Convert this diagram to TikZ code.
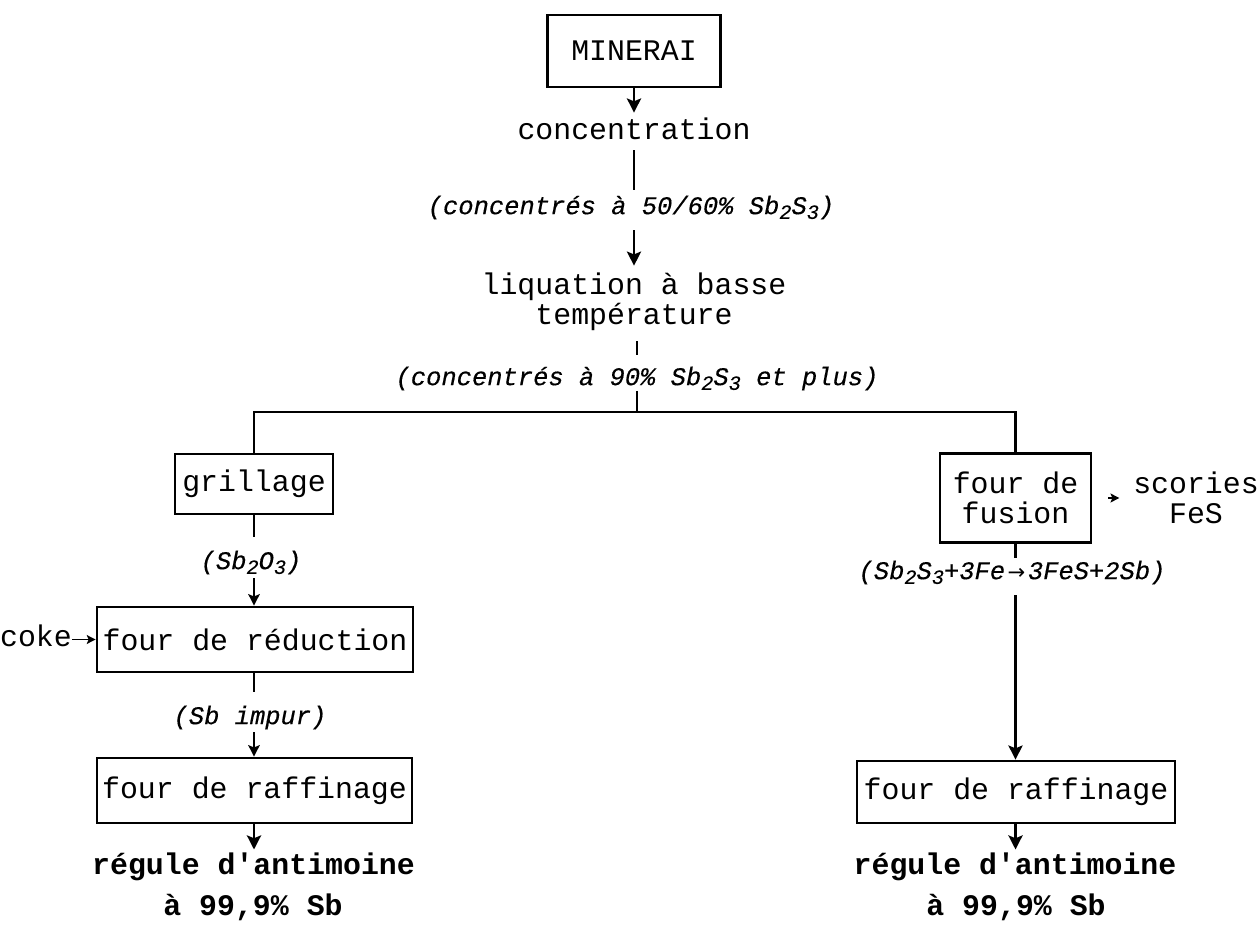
\documentclass[tikz,border=0pt]{standalone}
\usepackage{fontspec}
\setmonofont{Liberation Mono}
\newfontfamily\labfam{Liberation Mono}[UprightFont={* Italic}, FakeBold=0.35]
\newfontfamily\arrowfont{DejaVu Sans}
\usetikzlibrary{arrows.meta}

% type faces of the flow sheet
\newcommand\fbody{\ttfamily\fontsize{17}{17.1}\selectfont}
\newcommand\flab{\labfam\fontsize{14.5}{14.5}\selectfont}
\newcommand\fres{\ttfamily\bfseries\fontsize{17}{17.1}\selectfont}
% lowered index digit for chemical formulae
\newcommand\ix[1]{\raisebox{-0.35ex}{\fontsize{11.5}{11.5}\selectfont #1}}
% reaction arrow inside a formula
\newcommand\yields{\hspace{0.1em}{\arrowfont\fontsize{12}{12}\selectfont →}\hspace{0.1em}}

\tikzset{
  box/.style={draw, line width=1.6pt, inner sep=0pt, font=\fbody, align=center},
  txt/.style={inner sep=0pt, font=\fbody, text height=12pt, text depth=3.5pt},
  txtml/.style={inner sep=0pt, font=\fbody, align=center},
  lab/.style={inner sep=0pt, font=\flab, text height=10pt, text depth=3pt},
  res/.style={inner sep=0pt, font=\fres, text height=12pt, text depth=3.5pt},
  flow/.style={line width=1.6pt},
  arr/.style={flow, -{Stealth[length=8pt,width=8pt,inset=1.6pt]}},
  smallarr/.style={flow, -{Stealth[length=6.5pt,width=6.5pt,inset=1.3pt]}},
  tinyarr/.style={line width=1pt, -{Stealth[length=5pt,width=5pt,inset=1pt]}},
}

\begin{document}
\begin{tikzpicture}[x=0.02cm, y=-0.02cm]
\useasboundingbox (0,0) rectangle (1260,925);

% ---- main trunk
\node[box, minimum width=3.46cm, minimum height=1.44cm] (min) at (634,51) {MINERAI};
\node[txt] (conc) at (634,132) {concentration};
\node[lab] (l1) at (631,208) {(concentrés à 50/60\% Sb\ix{2}S\ix{3})};
\node[txtml] (liq) at (634,302) {liquation à basse\\température};
\node[lab] (l2) at (637,379) {(concentrés à 90\% Sb\ix{2}S\ix{3} et plus)};
\coordinate (junc) at (637,412);

% ---- left branch: roasting and reduction
\node[box, minimum width=3.16cm, minimum height=1.2cm] (gri) at (254,484) {grillage};
\node[lab] (l3) at (251,563) {(Sb\ix{2}O\ix{3})};
\node[box, minimum width=6.32cm, minimum height=1.3cm] (red) at (255,639.5) {four de réduction};
\node[txt] (coke) at (36,639.5) {coke};
\node[lab] (l4) at (250,718) {(Sb impur)};
\node[box, minimum width=6.3cm, minimum height=1.3cm] (raf1) at (254.5,790.5) {four de raffinage};
\node[res] (reg1) at (253.5,867) {régule d\textquotesingle antimoine};
\node[res] (pct1) at (253,908) {à 99,9\% Sb};

% ---- right branch: precipitation smelting
\node[box, minimum width=3.02cm, minimum height=1.78cm] (fus) at (1015.5,498) {four de\\fusion};
\node[txtml] (sco) at (1196,498) {scories\\FeS};
\node[lab] (l5) at (1012,573) {(Sb\ix{2}S\ix{3}+3Fe\yields 3FeS+2Sb)};
\node[box, minimum width=6.36cm, minimum height=1.24cm] (raf2) at (1016,792) {four de raffinage};
\node[res] (reg2) at (1015,867) {régule d\textquotesingle antimoine};
\node[res] (pct2) at (1016,908) {à 99,9\% Sb};

% ---- connectors, trunk (kept vertical under the upper node)
\draw[arr, shorten >=3.1pt] (min.south) -- (min.south |- conc.north);
\draw[flow, shorten <=2.5pt, shorten >=3.7pt] (conc.south) -- (conc.south |- l1.north);
\draw[arr, shorten <=6pt, shorten >=4pt] (conc |- l1.south) -- (conc |- liq.north);
\draw[flow, shorten <=5.7pt, shorten >=7.1pt] (junc |- liq.south) -- (junc |- l2.north);
\draw[flow] (junc |- l2.south) -- (junc);
\draw[flow] (gri.north) |- (junc) -| (fus.north);

% ---- connectors, left branch
\draw[flow, shorten >=8.3pt] (gri.south) -- (gri.south |- l3.north);
\draw[smallarr, shorten <=2pt] (gri |- l3.south) -- (gri |- red.north);
\draw[tinyarr] (coke.east) -- (red.west);
\draw[flow, shorten >=8.3pt] (gri |- red.south) -- (gri |- l4.north);
\draw[smallarr, shorten <=1.4pt] (gri |- l4.south) -- (gri |- raf1.north);
\draw[arr, shorten >=2pt] (gri |- raf1.south) -- (gri |- reg1.north);

% ---- connectors, right branch
\draw[tinyarr, shorten <=9.1pt, shorten >=7.7pt] (fus.east) -- (sco.west);
\draw[flow, shorten >=2pt] (fus.south) -- (fus.south |- l5.north);
\draw[arr, shorten <=6pt] (fus |- l5.south) -- (fus |- raf2.north);
\draw[arr, shorten >=2pt] (fus |- raf2.south) -- (fus |- reg2.north);
\end{tikzpicture}
\end{document}
